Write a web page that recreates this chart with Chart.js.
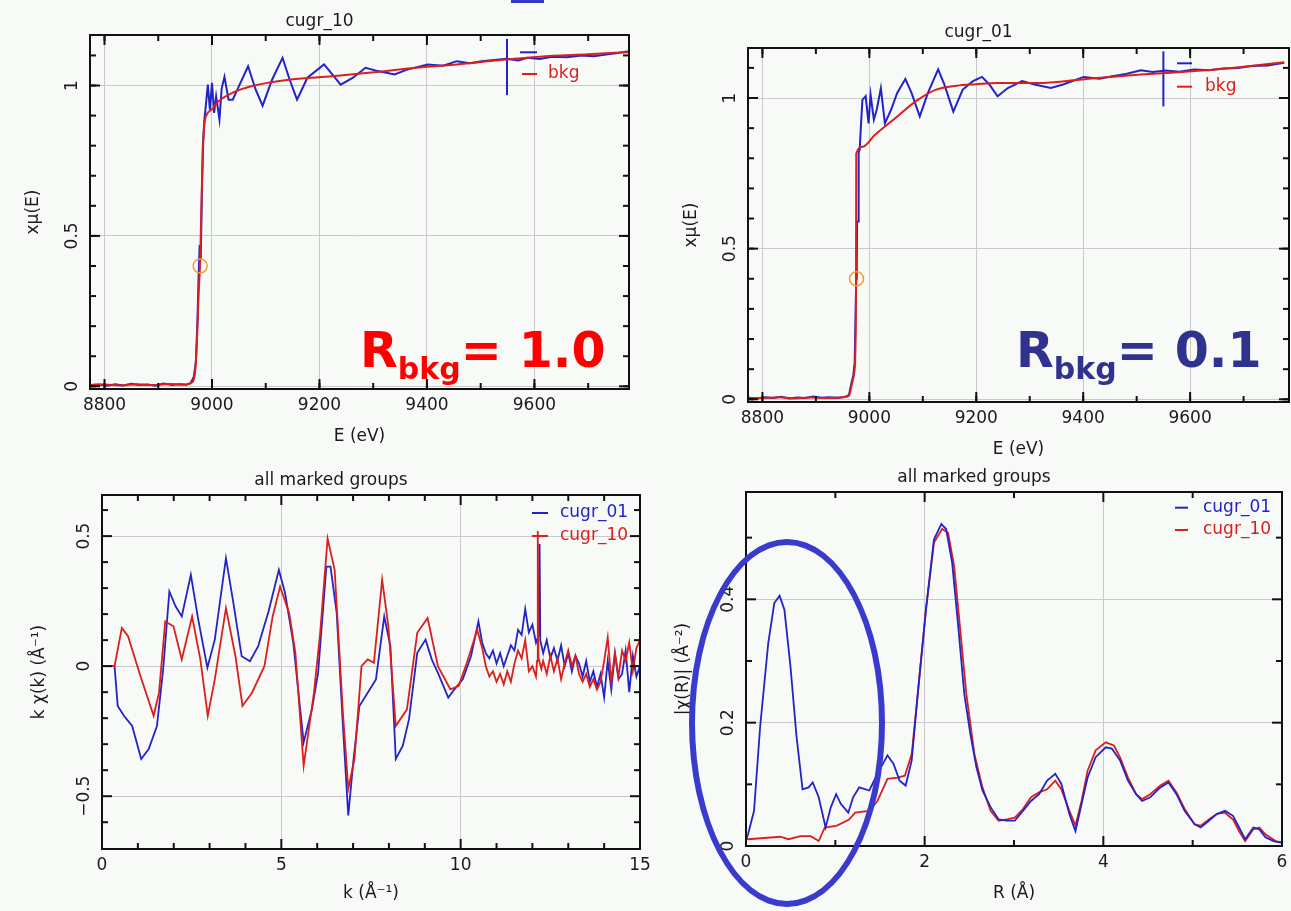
<!DOCTYPE html>
<html>
<head>
<meta charset="utf-8">
<title>Background removal: Rbkg comparison</title>
<script src="https://cdn.jsdelivr.net/npm/chart.js@4.4.1/dist/chart.umd.min.js"></script>
<style>
  html, body { margin: 0; padding: 0; background: #f7faf7; width: 1291px; height: 911px; overflow: hidden; position: relative; }
  .panel { position: absolute; }
  .rbkg { position: absolute; font-family: "DejaVu Sans", sans-serif; font-weight: bold; font-size: 49px; line-height: 49px; white-space: nowrap; z-index: 5; }
  .rbkg .sub { font-size: 30px; position: relative; top: 12px; }
  .ring { position: absolute; left: 689px; top: 539px; width: 196px; height: 368px; border: 6px solid #3a3acd; border-radius: 50%; box-sizing: border-box; z-index: 6; pointer-events: none; }
  .topmark { position: absolute; left: 511px; top: 0; width: 33px; height: 3px; background: #3535c8; }
</style>
</head>
<body>
<div class="topmark"></div>
<div class="panel" style="left:10px;top:5px;width:631px;height:446px"><canvas id="muTen"></canvas></div>
<div class="panel" style="left:668px;top:18px;width:633px;height:446px"><canvas id="muOne"></canvas></div>
<div class="panel" style="left:22px;top:465px;width:630px;height:446px"><canvas id="chiK"></canvas></div>
<div class="panel" style="left:666px;top:462px;width:628px;height:446px"><canvas id="chiR"></canvas></div>
<div class="rbkg" style="left:360px;top:326px;color:#ff0000">R<span class="sub">bkg</span>= 1.0</div>
<div class="rbkg" style="left:1016px;top:326px;color:#30328f">R<span class="sub">bkg</span>= 0.1</div>
<div class="ring"></div>

<script>
// ---------- cugr_10 : mu(E) and background (rbkg = 1.0) ----------
const eMu10 = [8773, 8790, 8805, 8820, 8835, 8850, 8865, 8880, 8895, 8910, 8925, 8940, 8952, 8960, 8966, 8970, 8973, 8975, 8977, 8979, 8981, 8983, 8986, 8988.4, 8992.3, 8996.1, 9000, 9003.9, 9007.7, 9013.9, 9018, 9023.2, 9030.9, 9038.6, 9050.2, 9067.2, 9081.1, 9094.2, 9112, 9131.3, 9144.4, 9158.3, 9177.6, 9208.5, 9223.9, 9239.4, 9262.5, 9285.7, 9308.9, 9339.8, 9363, 9401.5, 9430, 9455.6, 9480, 9501.9, 9525, 9548.3, 9570, 9586.9, 9610, 9633.2, 9660, 9687.3, 9710, 9733.6, 9755, 9776];
const mu10 = [0.004, 0.006, 0.002, 0.007, 0.003, 0.008, 0.004, 0.006, 0.002, 0.009, 0.004, 0.007, 0.005, 0.01, 0.03, 0.08, 0.22, 0.36, 0.47, 0.42, 0.62, 0.8, 0.89, 0.931, 1.003, 0.92, 1.009, 0.909, 0.964, 0.887, 0.99, 1.029, 0.953, 0.953, 0.998, 1.064, 0.987, 0.933, 1.02, 1.092, 1.02, 0.953, 1.026, 1.07, 1.037, 1.003, 1.026, 1.059, 1.048, 1.037, 1.053, 1.07, 1.066, 1.081, 1.074, 1.081, 1.085, 1.089, 1.083, 1.092, 1.088, 1.096, 1.094, 1.1, 1.097, 1.103, 1.108, 1.114];
const eBkg10 = [8773, 8800, 8830, 8860, 8890, 8920, 8950, 8962, 8968, 8972, 8975, 8978, 8981, 8984, 8987, 9000, 9007.7, 9020, 9038.6, 9055, 9069.5, 9100, 9146.7, 9223.9, 9301.2, 9378.4, 9455.6, 9532.8, 9610, 9700, 9776];
const bkg10 = [0.004, 0.006, 0.003, 0.007, 0.004, 0.008, 0.006, 0.012, 0.04, 0.15, 0.3, 0.42, 0.65, 0.82, 0.887, 0.92, 0.94, 0.958, 0.976, 0.988, 0.996, 1.008, 1.02, 1.031, 1.044, 1.059, 1.07, 1.084, 1.096, 1.104, 1.111];
const edgeE10 = [8978];
const edgeMu10 = [0.40];
const splineEndE10 = [9549, 9549];
const splineEndMu10 = [0.968, 1.155];

// ---------- cugr_01 : mu(E) and background (rbkg = 0.1) ----------
const eMu01 = [8773, 8790, 8805, 8820, 8835, 8850, 8865, 8880, 8895, 8910, 8925, 8940, 8955, 8962, 8966, 8970, 8972.5, 8975.5, 8976.5, 8977, 8979, 8980, 8982, 8984, 8987, 8993.1, 8998.5, 9002.3, 9008.4, 9013.8, 9021.5, 9029.1, 9040.6, 9052.1, 9067.4, 9078.9, 9094.3, 9109.6, 9128.7, 9140.2, 9157.1, 9174.7, 9193.9, 9210.7, 9224.5, 9239.8, 9259, 9285.8, 9308.8, 9339.5, 9362.5, 9400.8, 9430, 9454.4, 9480, 9508, 9530, 9554, 9580, 9607.7, 9635, 9661.3, 9690, 9714.9, 9745, 9776];
const mu01 = [0.005, 0.003, 0.007, 0.004, 0.008, 0.003, 0.006, 0.004, 0.009, 0.005, 0.007, 0.004, 0.008, 0.015, 0.05, 0.08, 0.12, 0.40, 0.45, 0.59, 0.59, 0.82, 0.83, 0.9, 0.994, 1.006, 0.916, 1.011, 0.928, 0.961, 1.033, 0.916, 0.961, 1.017, 1.063, 1.017, 0.939, 1.017, 1.095, 1.045, 0.955, 1.028, 1.056, 1.07, 1.045, 1.006, 1.033, 1.056, 1.045, 1.033, 1.045, 1.07, 1.064, 1.072, 1.08, 1.092, 1.086, 1.091, 1.087, 1.095, 1.092, 1.098, 1.1, 1.106, 1.108, 1.117];
const eBkg01 = [8773, 8800, 8830, 8860, 8890, 8920, 8950, 8962, 8966, 8970, 8972.5, 8975, 8975.5, 8987, 9010, 9048.3, 9086.6, 9124.9, 9163.2, 9200, 9239.8, 9316.5, 9393.1, 9450, 9508, 9565, 9623, 9700, 9776];
const bkg01 = [0.005, 0.004, 0.007, 0.003, 0.006, 0.004, 0.007, 0.012, 0.04, 0.07, 0.1, 0.35, 0.816, 0.838, 0.877, 0.933, 0.989, 1.028, 1.041, 1.046, 1.05, 1.05, 1.061, 1.07, 1.078, 1.084, 1.091, 1.104, 1.119];
const edgeE01 = [8976];
const edgeMu01 = [0.40];
const splineEndE01 = [9550, 9550];
const splineEndMu01 = [0.972, 1.155];

// ---------- k-weighted chi(k) ----------
const kCugr01 = [0, 0.35, 0.438, 0.611, 0.841, 1.094, 1.302, 1.532, 1.705, 1.878, 2.051, 2.224, 2.477, 2.684, 2.938, 3.145, 3.456, 3.664, 3.894, 4.124, 4.355, 4.643, 4.931, 5.104, 5.334, 5.622, 5.853, 6.025, 6.256, 6.371, 6.544, 6.717, 6.866, 7.005, 7.177, 7.408, 7.638, 7.869, 8.041, 8.191, 8.387, 8.56, 8.79, 9.021, 9.194, 9.366, 9.654, 9.827, 10.058, 10.288, 10.495, 10.6, 10.7, 10.8, 10.9, 11.0, 11.1, 11.2, 11.3, 11.4, 11.5, 11.6, 11.7, 11.8, 11.9, 12.0, 12.1, 12.18, 12.2, 12.22, 12.3, 12.4, 12.5, 12.6, 12.7, 12.8, 12.9, 13.0, 13.1, 13.2, 13.3, 13.4, 13.5, 13.6, 13.7, 13.8, 13.9, 14.0, 14.1, 14.2, 14.3, 14.4, 14.5, 14.6, 14.7, 14.8, 14.9, 15.0];
const kchiCugr01 = [0, 0, -0.153, -0.191, -0.23, -0.357, -0.319, -0.23, -0.013, 0.287, 0.23, 0.191, 0.351, 0.179, -0.006, 0.102, 0.415, 0.242, 0.038, 0.019, 0.077, 0.21, 0.37, 0.281, 0.089, -0.293, -0.166, -0.026, 0.383, 0.383, 0.204, -0.23, -0.574, -0.37, -0.153, -0.102, -0.051, 0.191, 0.077, -0.357, -0.306, -0.204, 0.051, 0.102, 0.026, -0.026, -0.121, -0.089, -0.051, 0.038, 0.172, 0.09, 0.05, 0.03, 0.06, 0.01, 0.05, 0.0, 0.04, 0.08, 0.06, 0.14, 0.12, 0.22, 0.13, 0.16, 0.09, 0.12, 0.47, 0.1, 0.05, 0.1, 0.03, 0.07, 0.02, 0.08, 0.0, 0.05, -0.02, 0.04, 0.01, -0.04, 0.02, -0.06, -0.02, -0.08, -0.03, -0.12, 0.02, -0.09, 0.05, -0.05, -0.03, 0.06, -0.1, 0.04, -0.04, 0.0];
const kCugr10 = [0, 0.35, 0.553, 0.726, 1.071, 1.44, 1.59, 1.763, 1.993, 2.224, 2.512, 2.742, 2.949, 3.145, 3.456, 3.721, 3.917, 4.182, 4.528, 4.758, 4.965, 5.219, 5.392, 5.622, 5.91, 6.083, 6.29, 6.486, 6.717, 6.866, 7.039, 7.235, 7.408, 7.581, 7.811, 7.984, 8.191, 8.502, 8.79, 9.078, 9.366, 9.712, 9.942, 10.173, 10.461, 10.6, 10.7, 10.8, 10.9, 11.0, 11.1, 11.2, 11.3, 11.4, 11.5, 11.6, 11.7, 11.8, 11.9, 12.0, 12.1, 12.13, 12.15, 12.17, 12.25, 12.3, 12.4, 12.5, 12.6, 12.7, 12.8, 12.9, 13.0, 13.1, 13.2, 13.3, 13.4, 13.5, 13.6, 13.7, 13.8, 13.9, 14.0, 14.1, 14.2, 14.3, 14.4, 14.5, 14.6, 14.7, 14.8, 14.9, 15.0];
const kchiCugr10 = [0, 0, 0.147, 0.115, -0.038, -0.191, -0.102, 0.172, 0.153, 0.026, 0.191, 0.026, -0.191, -0.051, 0.223, 0.038, -0.153, -0.102, 0.0, 0.191, 0.306, 0.204, 0.051, -0.383, -0.102, 0.128, 0.491, 0.37, -0.179, -0.472, -0.357, 0.0, 0.026, 0.013, 0.332, 0.153, -0.23, -0.166, 0.128, 0.185, 0.0, -0.089, -0.077, 0.013, 0.14, 0.07, 0.0, -0.04, -0.02, -0.06, -0.03, -0.07, -0.02, -0.06, 0.01, 0.06, 0.03, 0.1, -0.02, 0.0, -0.04, 0.02, 0.52, 0.03, -0.01, 0.02, -0.03, 0.04, -0.02, 0.03, -0.05, 0.01, 0.06, 0.0, 0.04, -0.03, -0.06, -0.03, -0.08, -0.05, -0.09, -0.06, 0.02, 0.11, -0.06, 0.05, -0.04, 0.06, 0.02, 0.09, -0.02, 0.07, 0.1];

// ---------- |chi(R)| ----------
const rCugr01 = [0, 0.023, 0.09, 0.158, 0.249, 0.317, 0.376, 0.43, 0.498, 0.566, 0.633, 0.701, 0.747, 0.814, 0.891, 0.95, 1.009, 1.063, 1.145, 1.199, 1.267, 1.38, 1.471, 1.584, 1.652, 1.719, 1.787, 1.855, 1.923, 2.014, 2.104, 2.186, 2.24, 2.308, 2.376, 2.443, 2.511, 2.579, 2.647, 2.738, 2.828, 2.919, 3.009, 3.1, 3.19, 3.281, 3.371, 3.462, 3.529, 3.62, 3.688, 3.756, 3.824, 3.914, 4.027, 4.095, 4.186, 4.276, 4.367, 4.434, 4.525, 4.638, 4.729, 4.819, 4.91, 5.023, 5.09, 5.181, 5.271, 5.362, 5.452, 5.52, 5.588, 5.679, 5.747, 5.814, 5.905, 6.0];
const magCugr01 = [0.01, 0.019, 0.057, 0.193, 0.329, 0.394, 0.406, 0.383, 0.291, 0.177, 0.092, 0.095, 0.103, 0.079, 0.03, 0.063, 0.084, 0.068, 0.054, 0.079, 0.095, 0.09, 0.117, 0.147, 0.133, 0.106, 0.098, 0.139, 0.247, 0.383, 0.497, 0.522, 0.514, 0.459, 0.356, 0.247, 0.182, 0.128, 0.09, 0.063, 0.043, 0.041, 0.041, 0.057, 0.073, 0.084, 0.106, 0.117, 0.101, 0.052, 0.024, 0.068, 0.111, 0.144, 0.16, 0.158, 0.139, 0.106, 0.084, 0.073, 0.079, 0.095, 0.103, 0.084, 0.057, 0.035, 0.03, 0.041, 0.052, 0.057, 0.049, 0.03, 0.011, 0.03, 0.027, 0.014, 0.008, 0.005];
const rCugr10 = [0, 0.023, 0.204, 0.385, 0.475, 0.611, 0.724, 0.814, 0.882, 1.018, 1.154, 1.222, 1.38, 1.471, 1.584, 1.697, 1.778, 1.855, 1.923, 2.014, 2.104, 2.195, 2.262, 2.33, 2.398, 2.466, 2.557, 2.647, 2.738, 2.828, 2.919, 3.009, 3.1, 3.19, 3.281, 3.371, 3.462, 3.529, 3.62, 3.688, 3.756, 3.824, 3.914, 4.027, 4.118, 4.186, 4.276, 4.367, 4.434, 4.525, 4.638, 4.729, 4.819, 4.91, 5.023, 5.09, 5.181, 5.271, 5.362, 5.452, 5.52, 5.588, 5.679, 5.747, 5.814, 5.928, 6.0];
const magCugr10 = [0.012, 0.011, 0.013, 0.015, 0.011, 0.016, 0.016, 0.008, 0.03, 0.033, 0.043, 0.054, 0.057, 0.073, 0.109, 0.111, 0.114, 0.149, 0.247, 0.383, 0.492, 0.514, 0.508, 0.454, 0.351, 0.247, 0.149, 0.095, 0.057, 0.041, 0.043, 0.046, 0.06, 0.079, 0.087, 0.092, 0.106, 0.092, 0.057, 0.033, 0.073, 0.122, 0.155, 0.168, 0.163, 0.144, 0.111, 0.084, 0.076, 0.084, 0.098, 0.106, 0.087, 0.06, 0.035, 0.033, 0.043, 0.052, 0.054, 0.043, 0.024, 0.008, 0.027, 0.03, 0.019, 0.008, 0.006];

// ---------- axis ticks and labels ----------
const eMajor = [8800, 9000, 9200, 9400, 9600];
const eMajorLabels = ['8800', '9000', '9200', '9400', '9600'];
const eMinor = [8800, 8900, 9000, 9100, 9200, 9300, 9400, 9500, 9600, 9700];
const muMajor = [0, 0.5, 1];
const muMajorLabels = ['0', '0.5', '1'];
const muMinor = [0, 0.1, 0.2, 0.3, 0.4, 0.5, 0.6, 0.7, 0.8, 0.9, 1.0, 1.1];
const kMajor = [0, 5, 10, 15];
const kMajorLabels = ['0', '5', '10', '15'];
const kMinor = [1, 2, 3, 4, 6, 7, 8, 9, 11, 12, 13, 14];
const kchiMajor = [-0.5, 0, 0.5];
const kchiMajorLabels = ['\u22120.5', '0', '0.5'];
const kchiMinor = [-0.6, -0.4, -0.3, -0.2, -0.1, 0.1, 0.2, 0.3, 0.4, 0.6];
const rMajor = [0, 2, 4, 6];
const rMajorLabels = ['0', '2', '4', '6'];
const rMinor = [1, 3, 5];
const magMajor = [0, 0.2, 0.4];
const magMajorLabels = ['0', '0.2', '0.4'];
const magMinor = [0.1, 0.3, 0.5];

// ---------- styling ----------
const BLUE = '#2323c6';
const RED = '#da1f1c';
const INK = '#1a1a1a';
const FAMILY = '"DejaVu Sans", sans-serif';
const FONT = { family: FAMILY, size: 17, weight: 'normal', lineHeight: '16px' };

const pts = (xs, ys) => xs.map((x, i) => ({ x: x, y: ys[i] }));

// Frame, inward tick marks, rotated y tick labels and the in-plot legend
const framePlugin = {
  id: 'frame',
  afterDraw(chart, args, o) {
    const { ctx, chartArea: a } = chart;
    const xs = chart.scales.x, ys = chart.scales.y;
    ctx.save();
    ctx.strokeStyle = '#111';
    ctx.lineWidth = 2;
    const seg = (x1, y1, x2, y2) => { ctx.beginPath(); ctx.moveTo(x1, y1); ctx.lineTo(x2, y2); ctx.stroke(); };
    const xTicks = (vals, len) => vals.forEach(v => {
      const p = xs.getPixelForValue(v);
      if (p < a.left - 0.5 || p > a.right + 0.5) return;
      seg(p, a.bottom, p, a.bottom - len); seg(p, a.top, p, a.top + len);
    });
    const yTicks = (vals, len) => vals.forEach(v => {
      const p = ys.getPixelForValue(v);
      if (p < a.top - 0.5 || p > a.bottom + 0.5) return;
      seg(a.left, p, a.left + len, p); seg(a.right, p, a.right - len, p);
    });
    xTicks(o.xMinor, 6); xTicks(o.xMajor, 10);
    yTicks(o.yMinor, 6); yTicks(o.yMajor, 10);
    ctx.strokeRect(a.left, a.top, a.right - a.left, a.bottom - a.top);

    ctx.fillStyle = INK;
    ctx.font = '17px ' + FAMILY;
    ctx.textAlign = 'center';
    ctx.textBaseline = 'middle';
    o.xMajor.forEach((v, i) => ctx.fillText(o.xLabels[i], xs.getPixelForValue(v), a.bottom + 16.5));
    o.yMajor.forEach((v, i) => {
      ctx.save();
      ctx.translate(a.left - 17, ys.getPixelForValue(v));
      ctx.rotate(-Math.PI / 2);
      ctx.fillText(o.yLabels[i], 0, 0);
      ctx.restore();
    });

    (o.legend || []).forEach(item => {
      ctx.strokeStyle = item.color;
      ctx.lineWidth = 2;
      seg(item.x1, item.y, item.x2, item.y);
      if (item.text) {
        ctx.fillStyle = item.color;
        ctx.textAlign = 'left';
        ctx.fillText(item.text, item.tx, item.y);
      }
    });
    ctx.restore();
  }
};

function fixWidth(w) { return s => { s.width = w; }; }
function fixHeight(h) { return s => { s.height = h; }; }

function makeChart(id, cfg) {
  const ctx = document.getElementById(id);
  return new Chart(ctx, {
    type: 'line',
    data: { datasets: cfg.datasets },
    plugins: [framePlugin],
    options: {
      responsive: true,
      maintainAspectRatio: false,
      devicePixelRatio: 1,
      animation: false,
      events: [],
      layout: { padding: { left: 0, top: 0, right: 12, bottom: 0 } },
      elements: { point: { radius: 0 }, line: { borderWidth: 2, tension: 0 } },
      plugins: {
        legend: { display: false },
        tooltip: { enabled: false },
        title: {
          display: true, text: cfg.title, color: INK, font: FONT,
          padding: { top: cfg.titlePad, bottom: 14 - cfg.titlePad }
        },
        frame: {
          xMajor: cfg.xMajor, xMinor: cfg.xMinor, xLabels: cfg.xLabels,
          yMajor: cfg.yMajor, yMinor: cfg.yMinor, yLabels: cfg.yLabels,
          legend: cfg.legend
        }
      },
      scales: {
        x: {
          type: 'linear', min: cfg.xMin, max: cfg.xMax,
          afterBuildTicks: s => { s.ticks = cfg.xMajor.map(v => ({ value: v })); },
          afterFit: fixHeight(62),
          ticks: { display: false },
          grid: { color: '#c9c9c9', lineWidth: 1, drawTicks: false },
          border: { display: false },
          title: { display: true, text: cfg.xTitle, color: INK, font: FONT, padding: { top: 0, bottom: cfg.xTitlePad } }
        },
        y: {
          type: 'linear', min: cfg.yMin, max: cfg.yMax,
          afterBuildTicks: s => { s.ticks = cfg.yMajor.map(v => ({ value: v })); },
          afterFit: fixWidth(80),
          ticks: { display: false },
          grid: { color: '#c9c9c9', lineWidth: 1, drawTicks: false },
          border: { display: false },
          title: { display: true, text: cfg.yTitle, color: INK, font: FONT, padding: { top: cfg.yTitlePad, bottom: 0 } }
        }
      }
    }
  });
}

const line = (data, color, order, extra) => Object.assign({
  data: data, borderColor: color, backgroundColor: color, borderWidth: 2,
  pointRadius: 0, fill: false, order: order
}, extra || {});
const edgeMark = (data) => ({
  data: data, showLine: false, pointRadius: 7, pointStyle: 'circle',
  pointBorderColor: '#eea030', pointBackgroundColor: 'rgba(0,0,0,0)', pointBorderWidth: 1.5,
  borderColor: '#eea030', order: 0
});

// mu(E), cugr_10
makeChart('muTen', {
  title: 'cugr_10', titlePad: 9,
  xTitle: 'E (eV)', xTitlePad: 6, yTitle: 'x\u03bc(E)', yTitlePad: 16,
  xMin: 8773, xMax: 9776, yMin: -0.009, yMax: 1.168,
  xMajor: eMajor, xMinor: eMinor, xLabels: eMajorLabels,
  yMajor: muMajor, yMinor: muMinor, yLabels: muMajorLabels,
  legend: [
    { x1: 510, x2: 527, y: 47.3, color: BLUE, text: '' },
    { x1: 512, x2: 527, y: 69, color: RED, text: 'bkg', tx: 538 }
  ],
  datasets: [
    edgeMark(pts(edgeE10, edgeMu10)),
    line(pts(eBkg10, bkg10), RED, 1, { cubicInterpolationMode: 'monotone' }),
    line(pts(eMu10, mu10), BLUE, 2),
    line(pts(splineEndE10, splineEndMu10), BLUE, 3)
  ]
});

// mu(E), cugr_01
makeChart('muOne', {
  title: 'cugr_01', titlePad: 7,
  xTitle: 'E (eV)', xTitlePad: 6, yTitle: 'x\u03bc(E)', yTitlePad: 16,
  xMin: 8773, xMax: 9785, yMin: -0.009, yMax: 1.166,
  xMajor: eMajor, xMinor: eMinor, xLabels: eMajorLabels,
  yMajor: muMajor, yMinor: muMinor, yLabels: muMajorLabels,
  legend: [
    { x1: 509, x2: 524, y: 45.3, color: BLUE, text: '' },
    { x1: 509, x2: 524, y: 68.7, color: RED, text: 'bkg', tx: 537 }
  ],
  datasets: [
    edgeMark(pts(edgeE01, edgeMu01)),
    line(pts(eBkg01, bkg01), RED, 1, { cubicInterpolationMode: 'monotone' }),
    line(pts(eMu01, mu01), BLUE, 2),
    line(pts(splineEndE01, splineEndMu01), BLUE, 3)
  ]
});

// k chi(k)
makeChart('chiK', {
  title: 'all marked groups', titlePad: 8,
  xTitle: 'k (\u00c5\u207b\u00b9)', xTitlePad: 9, yTitle: 'k \u03c7(k) (\u00c5\u207b\u00b9)', yTitlePad: 10,
  xMin: 0, xMax: 15, yMin: -0.703, yMax: 0.658,
  xMajor: kMajor, xMinor: kMinor, xLabels: kMajorLabels,
  yMajor: kchiMajor, yMinor: kchiMinor, yLabels: kchiMajorLabels,
  legend: [
    { x1: 510, x2: 526, y: 48, color: BLUE, text: 'cugr_01', tx: 538 },
    { x1: 510, x2: 526, y: 71, color: RED, text: 'cugr_10', tx: 538 }
  ],
  datasets: [
    line(pts(kCugr10, kchiCugr10), RED, 1, { borderWidth: 1.8 }),
    line(pts(kCugr01, kchiCugr01), BLUE, 2, { borderWidth: 1.8 })
  ]
});

// |chi(R)|
makeChart('chiR', {
  title: 'all marked groups', titlePad: 8,
  xTitle: 'R (\u00c5)', xTitlePad: 6, yTitle: '|\u03c7(R)| (\u00c5\u207b\u00b2)', yTitlePad: 10,
  xMin: 0, xMax: 6, yMin: 0, yMax: 0.574,
  xMajor: rMajor, xMinor: rMinor, xLabels: rMajorLabels,
  yMajor: magMajor, yMinor: magMinor, yLabels: magMajorLabels,
  legend: [
    { x1: 509, x2: 522, y: 45.7, color: BLUE, text: 'cugr_01', tx: 537 },
    { x1: 509, x2: 522, y: 68, color: RED, text: 'cugr_10', tx: 537 }
  ],
  datasets: [
    line(pts(rCugr01, magCugr01), BLUE, 1, { borderWidth: 1.8 }),
    line(pts(rCugr10, magCugr10), RED, 2, { borderWidth: 1.8 })
  ]
});
</script>
</body>
</html>
